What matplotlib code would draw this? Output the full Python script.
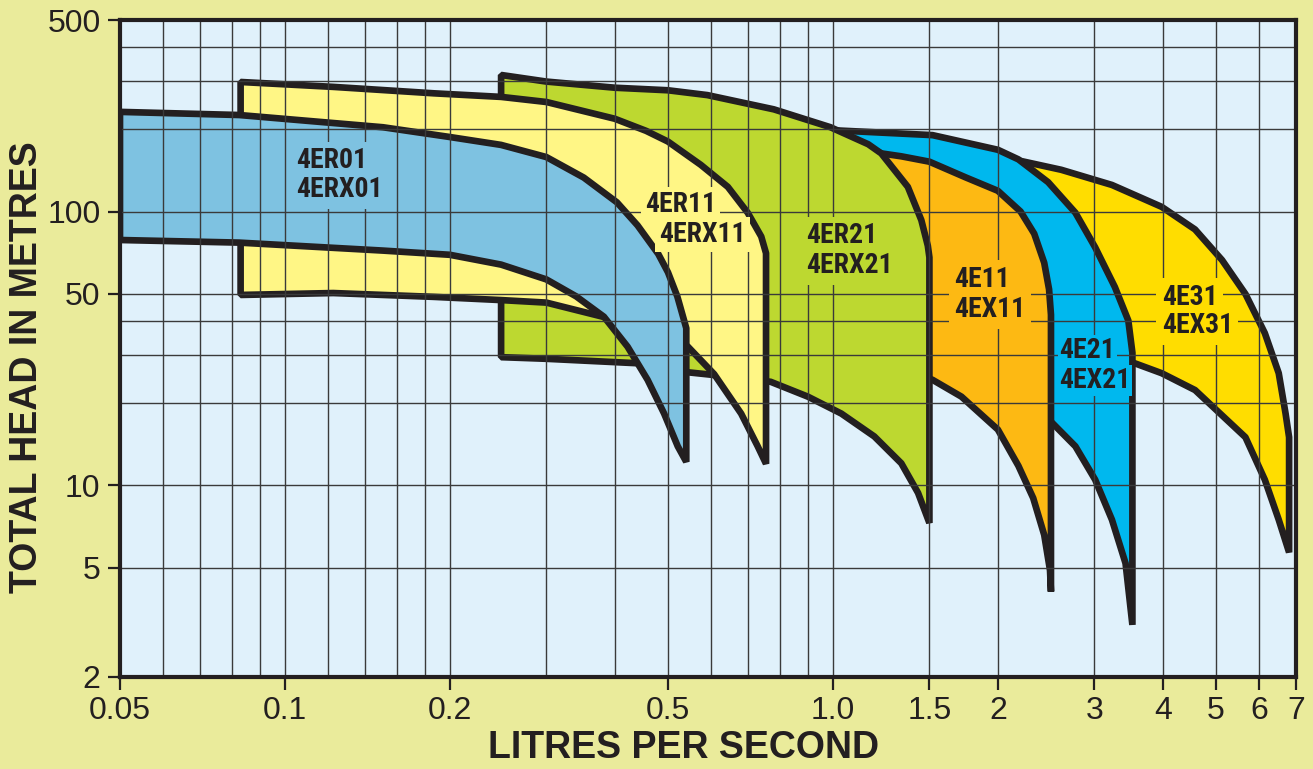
import os
import matplotlib
matplotlib.use('Agg')
import matplotlib.pyplot as plt
from matplotlib import font_manager
from matplotlib.font_manager import FontProperties
from matplotlib.ticker import FixedLocator, FixedFormatter, NullFormatter

# ---------------- fonts ----------------
_fonts = font_manager.fontManager.ttflist
_names = {f.name for f in _fonts}
BASE = 'Liberation Sans' if 'Liberation Sans' in _names else 'DejaVu Sans'


def _is_bold(f):
    w = f.weight
    if isinstance(w, (int, float)):
        return w >= 600
    return 'bold' in str(w).lower()


def _is_cond(f):
    s = f.stretch
    base = os.path.basename(f.fname).lower()
    if isinstance(s, (int, float)):
        if s < 500:
            return True
    elif 'condensed' in str(s).lower():
        return True
    return 'narrow' in f.name.lower() or 'condensed' in f.name.lower() or 'cond' in base


_pref = [('Liberation Sans Narrow', 20), ('Roboto Condensed', 20), ('Roboto', 20),
         ('Noto Sans', 20), ('Open Sans', 19), ('DejaVu Sans', 17.5)]
_cands = [f for f in _fonts if _is_bold(f) and _is_cond(f)
          and 'mono' not in f.name.lower() and 'serif' not in f.name.lower()
          and str(f.style).lower() == 'normal']
_label_fp = None
for pname, psize in _pref:
    hits = [f for f in _cands if f.name.startswith(pname)]
    if hits:
        _label_fp = FontProperties(fname=hits[0].fname, size=psize)
        break
if _label_fp is None and _cands:
    _label_fp = FontProperties(fname=_cands[0].fname, size=19)
if _label_fp is None:
    _label_fp = FontProperties(family=BASE, weight='bold', size=17)

# ---------------- data ----------------
x_ticks = [0.05, 0.1, 0.2, 0.5, 1.0, 1.5, 2, 3, 4, 5, 6, 7]
x_tick_labels = ['0.05', '0.1', '0.2', '0.5', '1.0', '1.5', '2', '3', '4', '5', '6', '7']
x_grid_minor = [0.06, 0.07, 0.08, 0.09, 0.12, 0.14, 0.16, 0.18, 0.3, 0.4, 0.6, 0.7, 0.8, 0.9]
y_ticks = [2, 5, 10, 50, 100, 500]
y_tick_labels = ['2', '5', '10', '50', '100', '500']
y_grid_minor = [20, 30, 40, 200, 300, 400]

# 4ER01
er01_top_x = [0.05, 0.0825, 0.151, 0.2, 0.248, 0.3, 0.351, 0.4035, 0.44, 0.48, 0.5, 0.52, 0.54]
er01_top_y = [231, 225, 203, 187, 175, 158, 133, 108, 89, 70, 60, 49, 37.5]
er01_bot_x = [0.05, 0.0825, 0.151, 0.2, 0.248, 0.3, 0.34, 0.382, 0.422, 0.459, 0.492, 0.521, 0.54]
er01_bot_y = [78.7, 77, 72, 69.5, 64, 56.5, 49, 41.3, 32.1, 24.3, 18.3, 13.9, 12.2]

# 4ER11
er11_top_x = [0.083, 0.1225, 0.187, 0.248, 0.3, 0.4, 0.456, 0.5, 0.574, 0.643, 0.699, 0.74, 0.755]
er11_top_y = [297, 285, 270, 262, 251, 218, 197, 180, 148, 123, 99, 81, 70.4]
er11_bot_x = [0.083, 0.1225, 0.187, 0.248, 0.3, 0.382, 0.46, 0.543, 0.607, 0.68, 0.729, 0.755]
er11_bot_y = [49.6, 50.4, 48.8, 47.5, 46.5, 41.2, 37, 32.2, 25.5, 18.3, 13.9, 12]

# 4ER21
er21_top_x = [0.248, 0.3, 0.4, 0.5, 0.59, 0.78, 0.99, 1.16, 1.225, 1.37, 1.45, 1.49, 1.5]
er21_top_y = [315, 298, 283, 277, 266, 236, 203, 176, 163, 123, 93, 75, 68]
er21_bot_x = [0.248, 0.3, 0.446, 0.543, 0.607, 0.77, 0.9, 1.036, 1.19, 1.333, 1.43, 1.5]
er21_bot_y = [29.4, 29, 27.9, 25.9, 25.3, 23.9, 21.1, 18.3, 15.1, 12.05, 9.4, 7.3]

# 4E11
e11_top_x = [1.16, 1.225, 1.333, 1.5, 1.75, 2.0, 2.2, 2.33, 2.43, 2.48, 2.5]
e11_top_y = [172, 163, 159, 152, 133, 119, 100, 83, 65, 52, 42]
e11_bot_x = [1.16, 1.52, 1.716, 2.0, 2.18, 2.32, 2.43, 2.49, 2.5]
e11_bot_y = [30, 24.3, 21.1, 16, 11.8, 9, 6.6, 4.9, 4.1]

# 4E21
e21_top_x = [1.0, 1.52, 2.0, 2.18, 2.47, 2.77, 3.01, 3.27, 3.46, 3.52]
e21_top_y = [198, 190, 168, 155, 128, 99, 74, 53, 40, 30.5]
e21_bot_x = [1.0, 1.5, 2.0, 2.5, 2.77, 3.01, 3.23, 3.42, 3.52]
e21_bot_y = [45, 30, 21, 17.1, 13.9, 10.5, 7.5, 5.2, 3.1]

# 4E31
e31_top_x = [2.1, 2.2, 2.61, 3.23, 3.98, 4.58, 5.13, 5.66, 6.14, 6.51, 6.7, 6.8]
e31_top_y = [157, 153, 142, 125, 104, 86, 66.5, 50, 36, 25.7, 18.3, 15]
e31_bot_x = [2.1, 3.0, 3.56, 3.98, 4.58, 5.06, 5.66, 6.14, 6.51, 6.8]
e31_bot_y = [40, 31, 27.9, 25.7, 22.3, 18.5, 15, 10.5, 7.5, 5.7]

# label lines: text, left x, baseline y
er01_labels = [('4ER01', 0.105, 144), ('4ERX01', 0.105, 113)]
er11_labels = [('4ER11', 0.454, 99.6), ('4ERX11', 0.4815, 77.4)]
er21_labels = [('4ER21', 0.894, 76.7), ('4ERX21', 0.894, 59.6)]
e11_labels = [('4E11', 1.667, 53), ('4EX11', 1.667, 41.2)]
e21_labels = [('4E21', 2.59, 29.2), ('4EX21', 2.59, 22.7)]
e31_labels = [('4E31', 3.98, 45.6), ('4EX31', 3.98, 36)]

# back to front
pumps = [
    (e31_top_x, e31_top_y, e31_bot_x, e31_bot_y, '#FFDD00', e31_labels, 0.2),
    (e21_top_x, e21_top_y, e21_bot_x, e21_bot_y, '#00B8EE', e21_labels, 0.06),
    (e11_top_x, e11_top_y, e11_bot_x, e11_bot_y, '#FDB913', e11_labels, 0.2),
    (er21_top_x, er21_top_y, er21_bot_x, er21_bot_y, '#BDD830', er21_labels, 0.2),
    (er11_top_x, er11_top_y, er11_bot_x, er11_bot_y, '#FFF685', er11_labels, 0.15),
    (er01_top_x, er01_top_y, er01_bot_x, er01_bot_y, '#7EC2E1', er01_labels, 0.2),
]

INK = '#231F20'
OUTER = '#EAEB9B'
PLOTBG = '#E0F1FB'

fig = plt.figure(figsize=(13.13, 7.69), dpi=100, facecolor=OUTER)
ax = fig.add_axes([120 / 1313, 1 - 677 / 769, (1296 - 120) / 1313, (677 - 20) / 769])
ax.set_facecolor(PLOTBG)
ax.set_xscale('log')
ax.set_yscale('log')
ax.set_xlim(0.05, 7)
ax.set_ylim(2, 500)

for i, (tx, ty, bx, by, col, labs, pad) in enumerate(pumps):
    xs = list(tx) + list(bx)[::-1]
    ys = list(ty) + list(by)[::-1]
    ax.fill(xs, ys, facecolor=col, edgecolor=INK, linewidth=4.8,
            joinstyle='bevel', zorder=1 + 0.1 * i)
    for s, lx, ly in labs:
        ax.text(lx, ly, s, fontproperties=_label_fp, color=INK,
                ha='left', va='baseline', zorder=4,
                bbox=dict(boxstyle='square,pad=%g' % pad, fc=col, ec='none'))

ax.xaxis.set_major_locator(FixedLocator(x_ticks))
ax.xaxis.set_major_formatter(FixedFormatter(x_tick_labels))
ax.xaxis.set_minor_locator(FixedLocator(x_grid_minor))
ax.xaxis.set_minor_formatter(NullFormatter())
ax.yaxis.set_major_locator(FixedLocator(y_ticks))
ax.yaxis.set_major_formatter(FixedFormatter(y_tick_labels))
ax.yaxis.set_minor_locator(FixedLocator(y_grid_minor))
ax.yaxis.set_minor_formatter(NullFormatter())

ax.set_axisbelow(False)
ax.grid(True, which='both', color='#3a3a3a', linewidth=1.0)
ax.tick_params(which='minor', length=0)
ax.tick_params(which='major', length=9, width=1.6, color=INK, labelcolor=INK,
               labelsize=23, pad=5, direction='out')
for lab in ax.get_xticklabels() + ax.get_yticklabels():
    lab.set_family(BASE)
for sp in ax.spines.values():
    sp.set_linewidth(3.0)
    sp.set_color(INK)
    sp.set_zorder(6)

fig.text(684 / 1313, 1 - 748 / 769, 'LITRES PER SECOND', family=BASE,
         fontweight='bold', fontsize=27, color=INK, ha='center', va='center')
fig.text(27 / 1313, 1 - 367 / 769, 'TOTAL HEAD IN METRES', family=BASE,
         fontweight='bold', fontsize=27, color=INK, ha='center', va='center',
         rotation=90)

fig.savefig('out.png', dpi=100, facecolor=OUTER)
